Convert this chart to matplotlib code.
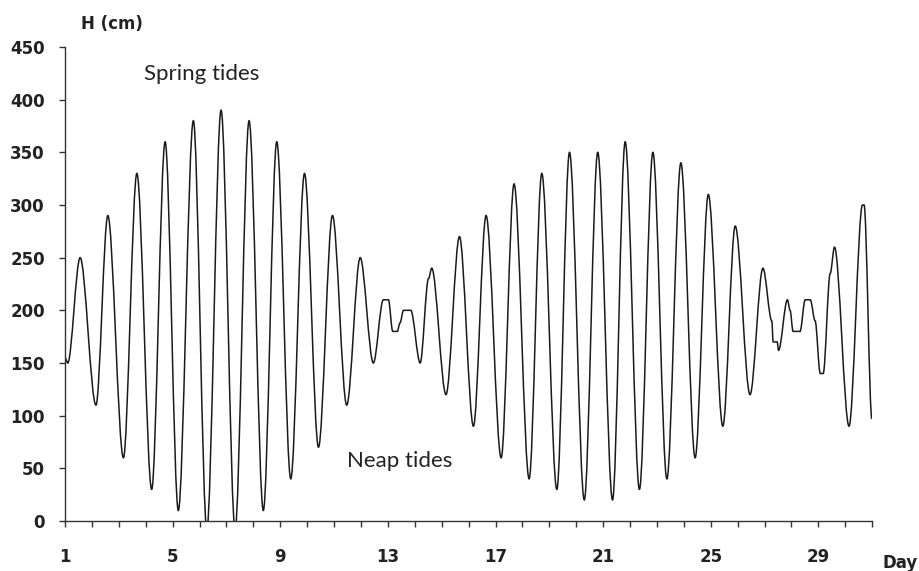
import matplotlib
matplotlib.use("Agg")
import matplotlib.pyplot as plt
from matplotlib.path import Path
from matplotlib.patches import PathPatch
import numpy as np

# turning points of the tide curve (day, water level in cm)
days = [1.00, 1.10, 1.56, 2.15, 2.59, 3.17, 3.67, 4.22, 4.72, 5.21,
        5.77, 6.27, 6.80, 7.32, 7.84, 8.37, 8.87, 9.39, 9.90, 10.42,
        10.94, 11.47, 11.97, 12.46, 12.83, 13.02, 13.18, 13.35, 13.45, 13.58,
        13.85, 14.20, 14.51, 14.63, 15.16, 15.66, 16.18, 16.65, 17.21, 17.69,
        18.25, 18.72, 19.28, 19.75, 20.30, 20.80, 21.35, 21.82, 22.35, 22.85,
        23.37, 23.89, 24.42, 24.91, 25.45, 25.91, 26.46, 26.94, 27.27, 27.32,
        27.47, 27.52, 27.85, 27.95, 28.06, 28.32, 28.51, 28.70, 28.88, 29.07,
        29.18, 29.44, 29.60, 30.14, 30.64, 30.70, 30.99]
height = [155, 150, 250, 110, 290, 60, 330, 30, 360, 10,
          380, -8, 390, -8, 380, 10, 360, 40, 330, 70,
          290, 110, 250, 150, 210, 210, 180, 180, 188, 200,
          200, 150, 230, 240, 120, 270, 90, 290, 60, 320,
          40, 330, 30, 350, 20, 350, 20, 360, 30, 350,
          40, 340, 60, 310, 90, 280, 120, 240, 190, 170,
          170, 162, 210, 200, 180, 180, 210, 210, 190, 140,
          140, 235, 260, 90, 300, 300, 97]

y_ticks = list(range(0, 451, 50))
x_labels = [1, 5, 9, 13, 17, 21, 25, 29]

fig = plt.figure(figsize=(9.2, 5.71), dpi=100)
ax = fig.add_axes([0.0707, 0.0876, 0.8773, 0.8301])

# smooth curve: cubic segments with flat tangents at every turning point
verts = [(days[0], height[0])]
codes = [Path.MOVETO]
for i in range(len(days) - 1):
    x0, y0, x1, y1 = days[i], height[i], days[i + 1], height[i + 1]
    dx = (x1 - x0) / 3
    verts += [(x0 + dx, y0), (x1 - dx, y1), (x1, y1)]
    codes += [Path.CURVE4] * 3
ax.add_patch(PathPatch(Path(verts, codes), fill=False, edgecolor="#1a1a1a",
                       lw=1.1, clip_on=True))

ax.set_xlim(1, 31)
ax.set_ylim(0, 450)
ax.set_yticks(y_ticks)
ax.set_xticks(x_labels)
ax.set_xticks(range(1, 32), minor=True)

for s in ["top", "right"]:
    ax.spines[s].set_visible(False)
for s in ["left", "bottom"]:
    ax.spines[s].set_color("#333333")
    ax.spines[s].set_linewidth(1.0)

ax.tick_params(axis="y", direction="out", length=4, width=1, color="#333333",
               pad=10.5, labelsize=12)
ax.tick_params(axis="x", which="both", direction="out", length=4.5, width=1,
               color="#333333", pad=15, labelsize=12)
for lab in ax.get_xticklabels() + ax.get_yticklabels():
    lab.set_fontweight("bold")
    lab.set_color("#222222")

fig.text(112 / 920, 1 - 24 / 571, "H (cm)", fontsize=12, fontweight="bold",
         ha="center", va="center", color="#222222")
fig.text(883 / 920, 1 - 563 / 571, "Day", fontsize=12, fontweight="bold",
         ha="left", va="center", color="#222222")

ax.text(6.07, 424, "Spring tides", fontsize=16, family="Lato",
        ha="center", va="center", color="#222222")
ax.text(13.43, 56.5, "Neap tides", fontsize=16, family="Lato",
        ha="center", va="center", color="#222222")

fig.savefig("out.png", dpi=100)
